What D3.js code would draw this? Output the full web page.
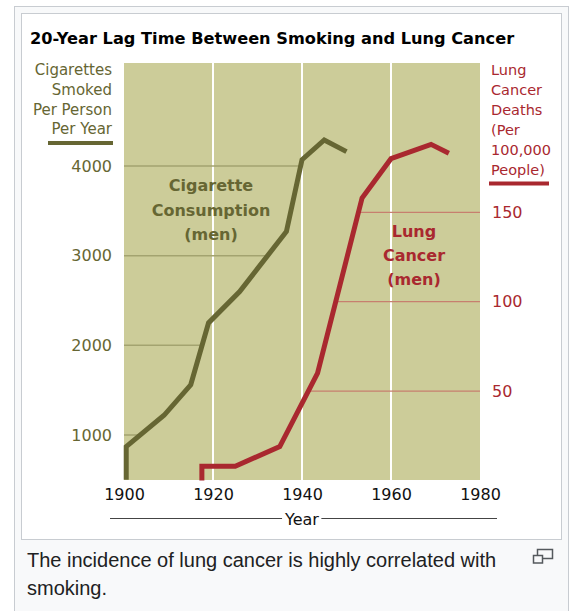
<!DOCTYPE html>
<html><head><meta charset="utf-8">
<script src="https://cdn.jsdelivr.net/npm/d3@7"></script>
<style>body{margin:0;background:#fff}</style>
</head><body><svg id="c" width="573" height="611"></svg>
<script>
// ---- data ----
const xTicks = [1900, 1920, 1940, 1960, 1980];
const cigTicks = [1000, 2000, 3000, 4000];
const lungTicks = [50, 100, 150];
const cigYears  = [1900.5, 1900.5, 1909, 1915, 1919, 1926, 1936.5, 1940, 1945, 1950];
const cigValues = [500,    870,    1220, 1560, 2250, 2600, 3270,   4070, 4290, 4160];
const lungYears  = [1917.5, 1917.5, 1925, 1935, 1943.5, 1953.5, 1960, 1969, 1973];
const lungValues = [0,      8,      8,    19,   60,     158,    180,  188,  183];
const title = "20-Year Lag Time Between Smoking and Lung Cancer";
const leftLabel = ["Cigarettes", "Smoked", "Per Person", "Per Year"];
const rightLabel = ["Lung", "Cancer", "Deaths", "(Per", "100,000", "People)"];
const cigNote = ["Cigarette", "Consumption", "(men)"];
const lungNote = ["Lung", "Cancer", "(men)"];
const caption = ["The incidence of lung cancer is highly correlated with", "smoking."];

// ---- styles ----
const OLIVE = "#666633", RED = "#a9282f", BG = "#cccc99";
const FONT = "DejaVu Sans";

const svg = d3.select("#c");
// frame
svg.append("rect").attr("x", 14.5).attr("y", 6.5).attr("width", 554).attr("height", 620)
  .attr("fill", "#f8f9fa").attr("stroke", "#c8ccd1");
svg.append("rect").attr("x", 21.5).attr("y", 13.5).attr("width", 540).attr("height", 526)
  .attr("fill", "#fff").attr("stroke", "#c8ccd1");

const L = 124, R = 480, T = 63, B = 480;
const x = d3.scaleLinear([1900, 1980], [L, R]);
const yL = d3.scaleLinear([1000, 4000], [435, 166]);
const yR = d3.scaleLinear([0, 150], [480.5, 212.3]);

svg.append("rect").attr("x", L).attr("y", T).attr("width", R - L).attr("height", B - T).attr("fill", BG);

// vertical white gridlines
svg.append("g").selectAll("line").data(xTicks.slice(1, -1)).join("line")
  .attr("x1", d => x(d)).attr("x2", d => x(d)).attr("y1", T).attr("y2", B)
  .attr("stroke", "#fff").attr("stroke-width", 2);

function crossYear(years, vals, v) {
  for (let i = 0; i < vals.length - 1; i++) {
    if ((vals[i] - v) * (vals[i + 1] - v) <= 0 && vals[i] !== vals[i + 1]) {
      const t = (v - vals[i]) / (vals[i + 1] - vals[i]);
      return years[i] + t * (years[i + 1] - years[i]);
    }
  }
  return 1900;
}
// left gridlines from axis to cigarette curve
svg.append("g").selectAll("line").data(cigTicks).join("line")
  .attr("x1", L).attr("x2", d => x(crossYear(cigYears, cigValues, d)))
  .attr("y1", d => yL(d)).attr("y2", d => yL(d))
  .attr("stroke", "#a3a370").attr("stroke-width", 1.5);
// right gridlines from lung curve to right edge
svg.append("g").selectAll("line").data(lungTicks).join("line")
  .attr("x1", d => x(crossYear(lungYears, lungValues, d))).attr("x2", R)
  .attr("y1", d => yR(d)).attr("y2", d => yR(d))
  .attr("stroke", "#c77f6f").attr("stroke-width", 1.2);

// series lines
const cigLine = d3.line().x((d, i) => x(cigYears[i])).y(d => yL(d));
svg.append("path").attr("d", cigLine(cigValues)).attr("fill", "none")
  .attr("stroke", OLIVE).attr("stroke-width", 5);
const lungLine = d3.line().x((d, i) => x(lungYears[i])).y(d => yR(d));
svg.append("path").attr("d", lungLine(lungValues)).attr("fill", "none")
  .attr("stroke", RED).attr("stroke-width", 5);

// axes
function styleAxis(g, color) {
  g.select(".domain").remove();
  g.selectAll("text").attr("font-family", FONT).attr("font-size", 16).attr("fill", color);
}
svg.append("g").attr("transform", `translate(${L},0)`)
  .call(d3.axisLeft(yL).tickValues(cigTicks).tickSize(0).tickPadding(12).tickFormat(d3.format("d")))
  .call(g => styleAxis(g, OLIVE));
svg.append("g").attr("transform", `translate(${R},0)`)
  .call(d3.axisRight(yR).tickValues(lungTicks).tickSize(0).tickPadding(12).tickFormat(d3.format("d")))
  .call(g => styleAxis(g, RED));
svg.append("g").attr("transform", `translate(0,${B})`)
  .call(d3.axisBottom(x).tickValues(xTicks).tickSize(0).tickPadding(9).tickFormat(d3.format("d")))
  .call(g => styleAxis(g, "#111"));

// title
svg.append("text").attr("x", 30).attr("y", 44).text(title)
  .attr("font-family", FONT).attr("font-weight", "bold").attr("font-size", 16.2).attr("fill", "#000");

// axis labels
svg.append("g").selectAll("text").data(leftLabel).join("text")
  .attr("x", 112).attr("y", (d, i) => 75 + i * 19.8).attr("text-anchor", "end").text(d => d)
  .attr("font-family", FONT).attr("font-size", 15).attr("fill", OLIVE);
svg.append("line").attr("x1", 48).attr("x2", 113).attr("y1", 143).attr("y2", 143)
  .attr("stroke", OLIVE).attr("stroke-width", 4);
svg.append("g").selectAll("text").data(rightLabel).join("text")
  .attr("x", 491).attr("y", (d, i) => 75 + i * 20).text(d => d)
  .attr("font-family", FONT).attr("font-size", 14.5).attr("fill", RED);
svg.append("line").attr("x1", 489).attr("x2", 549).attr("y1", 183.5).attr("y2", 183.5)
  .attr("stroke", RED).attr("stroke-width", 4);

// notes
svg.append("g").selectAll("text").data(cigNote).join("text")
  .attr("x", 211).attr("y", (d, i) => 191 + i * 24.5).attr("text-anchor", "middle").text(d => d)
  .attr("font-family", FONT).attr("font-weight", "bold").attr("font-size", 16).attr("fill", OLIVE);
svg.append("g").selectAll("text").data(lungNote).join("text")
  .attr("x", 414).attr("y", (d, i) => 237 + i * 24).attr("text-anchor", "middle").text(d => d)
  .attr("font-family", FONT).attr("font-weight", "bold").attr("font-size", 16).attr("fill", RED);

// x axis title
const yearT = svg.append("text").attr("x", 302).attr("y", 525).attr("text-anchor", "middle").text("Year")
  .attr("font-family", FONT).attr("font-size", 16).attr("fill", "#111");
const bb = yearT.node().getBBox();
svg.append("line").attr("x1", 110).attr("x2", bb.x - 2).attr("y1", 518.5).attr("y2", 518.5).attr("stroke", "#444");
svg.append("line").attr("x1", bb.x + bb.width + 2).attr("x2", 497).attr("y1", 518.5).attr("y2", 518.5).attr("stroke", "#444");

// caption
svg.append("g").selectAll("text").data(caption).join("text")
  .attr("x", 27).attr("y", (d, i) => 567 + i * 27.5).text(d => d)
  .attr("font-family", "Liberation Sans").attr("font-size", 20).attr("fill", "#202122");

// enlarge icon
svg.append("rect").attr("x", 537.5).attr("y", 549.5).attr("width", 15).attr("height", 9)
  .attr("fill", "none").attr("stroke", "#54595d").attr("stroke-width", 1.5);
svg.append("rect").attr("x", 533.5).attr("y", 555.5).attr("width", 9).attr("height", 7.5)
  .attr("fill", "#f8f9fa").attr("stroke", "#54595d").attr("stroke-width", 1.5);
</script></body></html>
